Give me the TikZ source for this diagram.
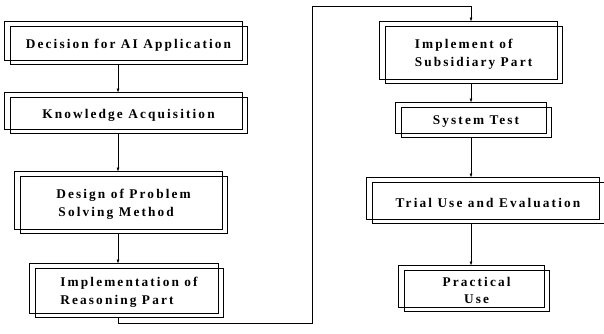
\documentclass[tikz,border=0pt]{standalone}
\usepackage{fontspec}
\setmainfont{Liberation Serif}
\usetikzlibrary{arrows.meta,positioning}

\begin{document}
\begin{tikzpicture}[x=1pt, y=-1pt,
  stage/.style={rectangle, draw=black, line width=0.9pt, inner sep=2pt,
                font=\bfseries\addfontfeatures{LetterSpace=16}\fontsize{13.3}{17.5}\selectfont},
  arr/.style={-{Latex[length=4pt,width=3pt]}, line width=0.6pt},
  back/.style={line width=0.6pt}
]
\useasboundingbox (0,0) rectangle (604,334);
% ── Left column ───────────────────────
\node[stage, minimum width=237pt, minimum height=38pt] (dec) at (128.5,45)
  {Decision for AI Application};
\node[stage, minimum width=237pt, minimum height=36pt] (kno) at (128.5,115)
  {Knowledge Acquisition};
\node[stage, minimum width=207pt, minimum height=57pt, align=left] (des) at (123.5,204.5)
  {Design of Problem\\ \,Solving Method};
\node[stage, minimum width=188pt, minimum height=49pt, align=left] (imp) at (129,292.5)
  {Implementation of\\Reasoning Part};
% ── Right column ──────────────────────
\node[stage, minimum width=177pt, minimum height=57pt, align=left] (sub) at (473.5,54.5)
  {Implement of\\Subsidiary Part};
\node[stage, minimum width=150pt, minimum height=30pt] (sys) at (476,122)
  {System Test};
\node[stage, minimum width=232pt, minimum height=41pt] (tri) at (488,202.5)
  {Trial Use and Evaluation};
\node[stage, minimum width=145pt, minimum height=41pt, align=center] (pra) at (476.5,290.5)
  {Practical\\Use};
% ── Back frames ───────────────────────
\foreach \n in {dec,kno,des,imp,sub,sys,tri,pra}
  \draw[back] ([shift={(-5,-4)}]\n.north west) rectangle ([shift={(-5,-4)}]\n.south east);
% ── Arrows ────────────────────────────
\coordinate (lx) at (118,0);
\coordinate (rx) at (471,0);
\coordinate (loopB) at (312,323);
\coordinate (loopT) at (312,6);
\draw[arr] (dec.south -| lx) -- ([yshift=4pt]kno.north -| lx);
\draw[arr] (kno.south -| lx) -- ([yshift=4pt]des.north -| lx);
\draw[arr] (des.south -| lx) -- ([yshift=4pt]imp.north -| lx);
\draw[arr] (imp.south -| lx) |- (loopB) -- (loopT) -| ([yshift=4pt]sub.north -| rx);
\draw[arr] (sub.south -| rx) -- ([yshift=4pt]sys.north -| rx);
\draw[arr] (sys.south -| rx) -- ([yshift=4pt]tri.north -| rx);
\draw[arr] (tri.south -| rx) -- ([yshift=4pt]pra.north -| rx);
\end{tikzpicture}
\end{document}
